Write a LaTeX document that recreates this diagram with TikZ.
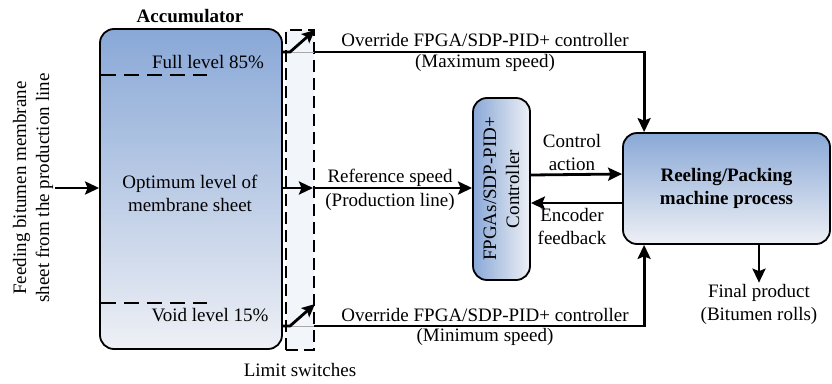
\documentclass[tikz,border=0pt]{standalone}
\usepackage{fontspec}
\setmainfont{Liberation Serif}
\usetikzlibrary{arrows.meta}

\definecolor{boxtop}{HTML}{89A8D7}
\definecolor{boxbot}{HTML}{EEF0F5}
\definecolor{swfill}{HTML}{F2F5FA}
\definecolor{contact}{HTML}{A8A8A8}

\tikzset{
  txt/.style={font=\fontsize{19}{23}\selectfont, inner sep=1pt, align=center},
  shadedbox/.style={draw, line width=1.8pt, rounded corners=14pt, top color=boxtop, bottom color=boxbot, inner sep=0pt},
  tip/.style={-{Stealth[length=14pt,width=13pt,inset=2.5pt]}},
  flow/.style={line width=2.8pt, tip},
  plainline/.style={line width=2.8pt},
  level/.style={line width=1.6pt, dash pattern=on 15pt off 8pt},
  swbox/.style={draw, line width=1.5pt, dash pattern=on 12pt off 6pt, fill=swfill, inner sep=0pt},
}

\begin{document}
\begin{tikzpicture}[x=1pt,y=-1pt]
\useasboundingbox (0,0) rectangle (832,383);

% accumulator tank
\node[shadedbox, minimum width=182pt, minimum height=320pt] (acc) at (191,189) {};
\node[txt, font=\fontsize{19}{23}\selectfont\bfseries] (acclbl) at (190,16) {Accumulator};
\draw[level] (101,75) -- (207,75);
\draw[level] (101,303) -- (207,303);
\node[txt] (full) at (208,62) {Full level 85\%};
\node[txt] (void) at (210,315) {Void level 15\%};
\node[txt] (opt) at (190,193) {Optimum level of\\membrane sheet};

% feed from the production line
\node[txt, rotate=90] (feed) at (33,188) {Feeding bitumen membrane\\sheet from the production line};
\coordinate (feedend) at (55,188);
\draw[flow] (feedend) -- (acc.west |- feedend);

% limit switches
\node[swbox, minimum width=28pt, minimum height=320pt] (ls) at (300,190) {};
\node[txt] (lslbl) at (300,370) {Limit switches};

% upper switch contact
\coordinate (s1a) at (283,52);
\coordinate (s1b) at (290,52);
\coordinate (s1c) at (315,30);
\coordinate (s1d) at (314,52);
\draw[line width=0.8pt, contact] (s1b) -- (s1d);
\draw[line width=2.8pt, -{Stealth[length=13pt,width=12pt,inset=2.5pt]}] (s1a) -- (s1b) -- (s1c);

% lower switch contact
\coordinate (s2a) at (283,326);
\coordinate (s2b) at (290,326);
\coordinate (s2c) at (315,304);
\coordinate (s2d) at (314,326);
\draw[line width=0.8pt, contact] (s2b) -- (s2d);
\draw[line width=2.8pt, -{Stealth[length=13pt,width=12pt,inset=2.5pt]}] (s2a) -- (s2b) -- (s2c);

% controller
\node[draw, line width=1.8pt, rounded corners=14pt, left color=boxtop, right color=boxbot,
      minimum width=57pt, minimum height=182pt, inner sep=0pt] (ctrl) at (501.5,189) {};
\node[txt, rotate=90] (ctrltxt) at (ctrl.center) {FPGAs/SDP-PID+\\Controller};

% reeling / packing machine
\node[shadedbox, minimum width=207pt, minimum height=111pt] (reel) at (726.5,188.5) {};
\node[txt, font=\fontsize{19}{23}\selectfont\bfseries] (reeltxt) at (reel.center) {Reeling/Packing\\machine process};

% reference speed
\coordinate (refa) at (acc.east |- 0,188);
\coordinate (refb) at (313,188);
\draw[flow] (refa) -- (refb);
\draw[flow] (refb) -- (ctrl.west |- refb);
\node[txt] (reflbl) at (390,178) {Reference speed};
\node[txt] (prodlbl) at (390,202) {(Production line)};

% control action and encoder feedback
\draw[flow] ([yshift=14pt]ctrl.east) -- ([yshift=14.5pt]reel.west);
\draw[flow] ([yshift=-14.5pt]reel.west) -- ([yshift=-14pt]ctrl.east);
\node[txt] (calbl) at (572,152) {Control\\action};
\node[txt] (enclbl) at (572,226) {Encoder\\feedback};

% override paths
\draw[flow] (s1d) -| ([xshift=22pt]reel.north west);
\draw[flow] (s2d) -| ([xshift=22pt]reel.south west);
\node[txt] (ov1) at (485,40) {Override FPGA/SDP-PID+ controller};
\node[txt] (ov1b) at (485,63) {(Maximum speed)};
\node[txt] (ov2) at (485,315) {Override FPGA/SDP-PID+ controller};
\node[txt] (ov2b) at (485,337) {(Minimum speed)};

% final product
\node[txt] (fp) at (759,304) {Final product\\(Bitumen rolls)};
\draw[flow] (fp.north |- reel.south) -- (fp.north);
\end{tikzpicture}
\end{document}
